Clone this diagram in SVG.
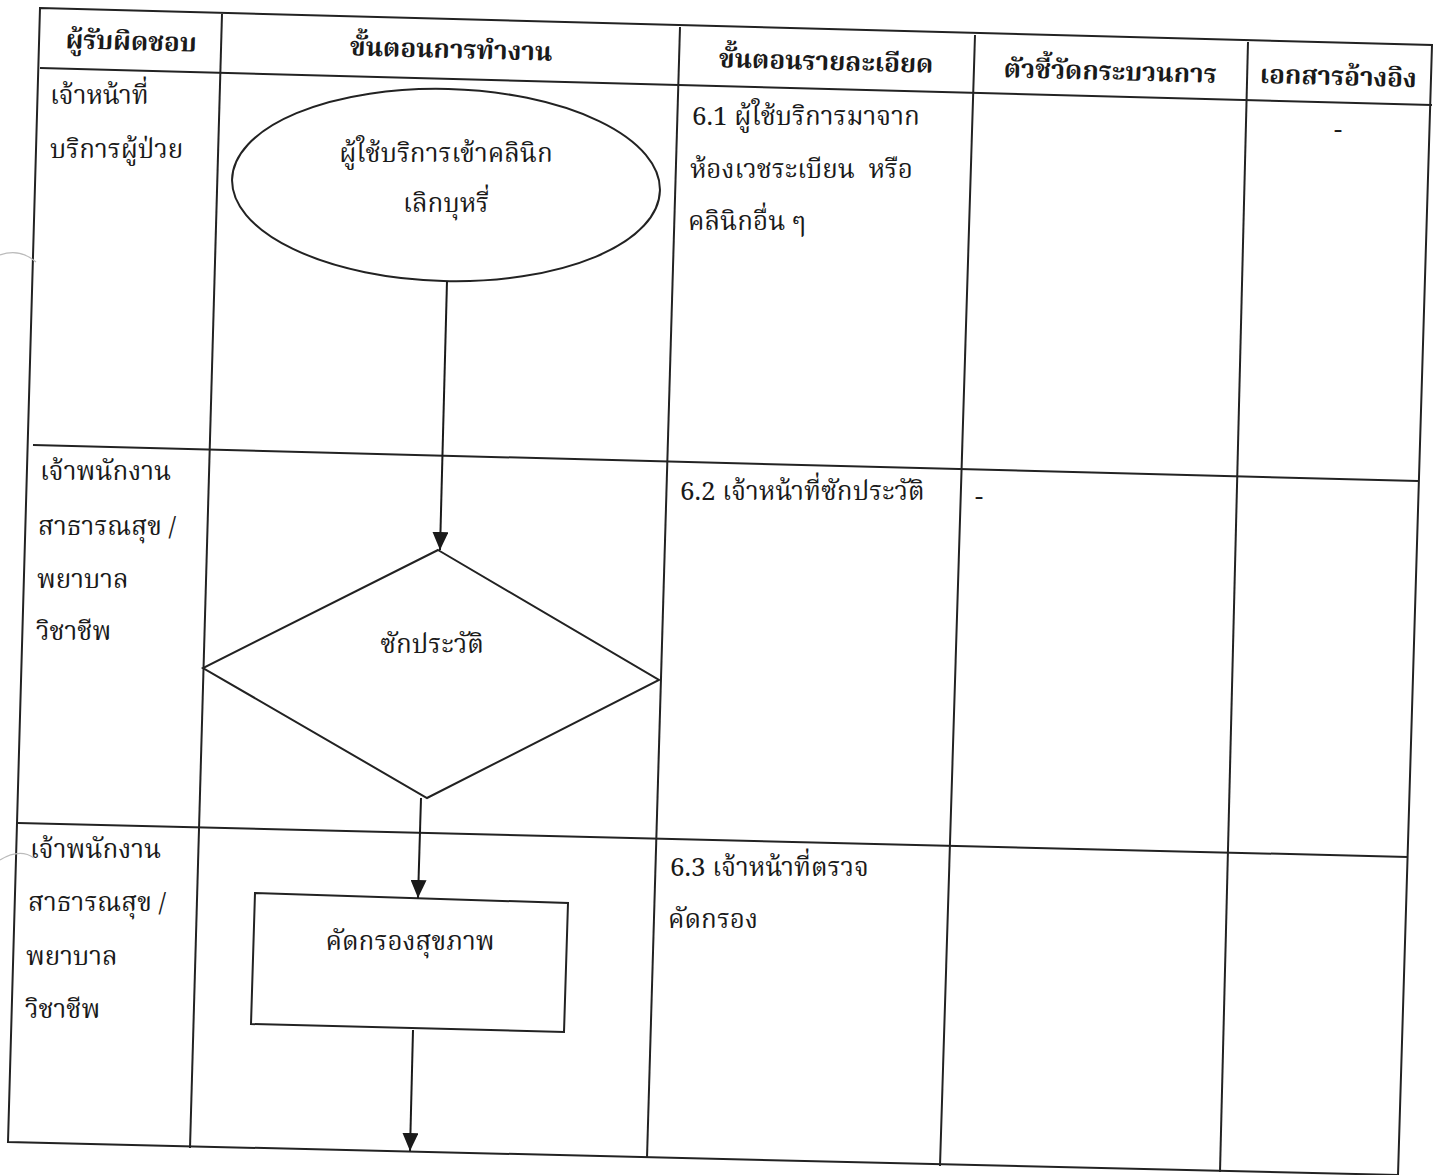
<svg xmlns="http://www.w3.org/2000/svg" width="1437" height="1175" viewBox="0 0 1437 1175">
<defs>
<marker id="ah" viewBox="0 0 18 16" refX="18" refY="8" markerWidth="18" markerHeight="16" markerUnits="userSpaceOnUse" orient="auto"><path d="M0,0 L18,8 L0,16 z" fill="#1a1a1a"/></marker>
<style>
.g{stroke:#222;stroke-width:2;fill:none}
.s{stroke:#222;stroke-width:2;fill:none}
text{font-family:"Noto Serif Thai","Norasi","Laksaman","TH Sarabun New","Noto Sans Thai","Liberation Serif",serif;fill:#1a1a1a;font-size:26px}
.h{font-weight:bold;font-size:26px;text-anchor:middle}
.c{text-anchor:middle}
.conn{stroke:#1a1a1a;stroke-width:2;fill:none;marker-end:url(#ah)}
</style>
</defs>
<rect width="1437" height="1175" fill="#fff"/>
<g id="table">
<polygon class="g" points="40,8 1432,45 1398,1175 8,1142"/>
<line class="g" x1="40" y1="68" x2="1432" y2="105"/>
<line class="g" x1="33" y1="445" x2="1418" y2="481"/>
<line class="g" x1="18" y1="823" x2="1408" y2="857"/>
<line class="g" x1="222" y1="14" x2="190" y2="1148"/>
<line class="g" x1="680" y1="27" x2="647" y2="1158"/>
<line class="g" x1="975" y1="35" x2="940" y2="1166"/>
<line class="g" x1="1248" y1="42" x2="1220" y2="1172"/>
</g>
<g id="header">
<text class="h" x="131" y="50" transform="rotate(1.5 131 50)">ผู้รับผิดชอบ</text>
<text class="h" x="451" y="58" transform="rotate(1.5 451 58)">ขั้นตอนการทำงาน</text>
<text class="h" x="826" y="70" transform="rotate(1.5 826 70)">ขั้นตอนรายละเอียด</text>
<text class="h" x="1110" y="80" transform="rotate(1.5 1110 80)">ตัวชี้วัดกระบวนการ</text>
<text class="h" x="1338" y="85" transform="rotate(1.5 1338 85)">เอกสารอ้างอิง</text>
</g>
<g id="responsible">
<text x="50" y="104">เจ้าหน้าที่</text>
<text x="50" y="158">บริการผู้ป่วย</text>
<text x="40" y="480">เจ้าพนักงาน</text>
<text x="38" y="535">สาธารณสุข /</text>
<text x="37" y="588">พยาบาล</text>
<text x="36" y="640">วิชาชีพ</text>
<text x="30" y="858">เจ้าพนักงาน</text>
<text x="28" y="911">สาธารณสุข /</text>
<text x="26" y="965">พยาบาล</text>
<text x="25" y="1018">วิชาชีพ</text>
</g>
<g id="details">
<text x="692" y="125">6.1 ผู้ใช้บริการมาจาก</text>
<text x="690" y="178" xml:space="preserve">ห้องเวชระเบียน  หรือ</text>
<text x="688" y="230">คลินิกอื่น ๆ</text>
<text x="680" y="500">6.2 เจ้าหน้าที่ซักประวัติ</text>
<text x="670" y="876">6.3 เจ้าหน้าที่ตรวจ</text>
<text x="668" y="928">คัดกรอง</text>
<text x="1334" y="138">-</text>
<text x="975" y="505">-</text>
</g>
<g id="node-start">
<ellipse class="s" cx="446" cy="185" rx="214" ry="96" transform="rotate(1.5 446 185)"/>
<text class="c" x="446" y="162">ผู้ใช้บริการเข้าคลินิก</text>
<text class="c" x="446" y="212">เลิกบุหรี่</text>
</g>
<g id="node-history">
<polygon class="s" points="438,550 659,680 427,798 203,668"/>
<text class="c" x="432" y="653">ซักประวัติ</text>
</g>
<g id="node-screen">
<polygon class="s" points="255,893 568,903 564,1032 251,1024"/>
<text class="c" x="410" y="950">คัดกรองสุขภาพ</text>
</g>
<g id="connectors">
<line class="conn" x1="447" y1="281" x2="440" y2="550"/>
<line class="conn" x1="421" y1="798" x2="418" y2="898"/>
<line class="conn" x1="413" y1="1030" x2="410" y2="1151"/>
</g>
<g id="scan-marks" stroke="#bbb" stroke-width="1.2" fill="none">
<path d="M0,255 Q20,248 36,262"/>
<path d="M0,860 Q20,848 34,858"/>
</g>
</svg>
